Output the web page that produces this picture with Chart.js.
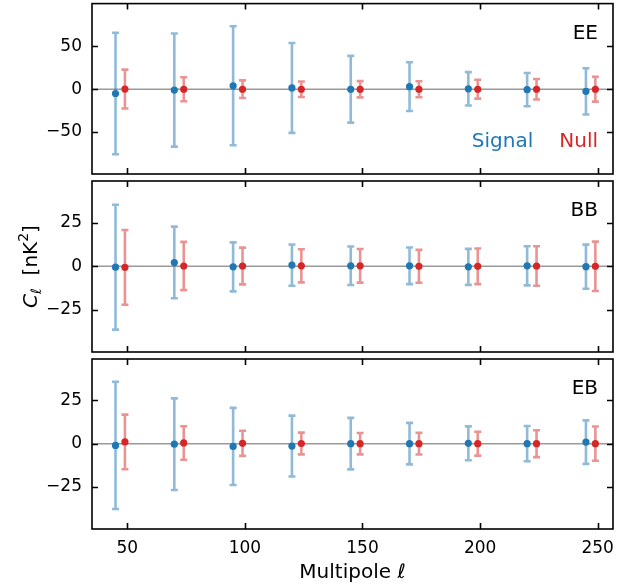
<!DOCTYPE html>
<html><head><meta charset="utf-8">
<script src="https://cdn.jsdelivr.net/npm/chart.js@4"></script>
<style>
html,body{margin:0;padding:0;background:#fff;}
#wrap{position:relative;width:619px;height:588px;overflow:hidden;}
#wrap canvas{position:absolute;left:0;top:0;}
</style></head><body>
<div id="wrap">
<canvas id="c0" width="619" height="588"></canvas>
<canvas id="c1" width="619" height="588"></canvas>
<canvas id="c2" width="619" height="588"></canvas>
</div>
<script>
// ---- data ----
const signalEll = [45, 70, 95, 120, 145, 170, 195, 220, 245];
const nullEll   = [49, 74, 99, 124, 149, 174, 199, 224, 249];

const eeSignal    = [-5, -1, 4, 1.5, 0, 3, 0.5, -0.5, -2.5];
const eeSignalErr = [71, 66, 69.5, 52.5, 39, 28.5, 19.5, 19.4, 27];
const eeNull      = [0.2, 0, 0, 0, 0, 0, 0, 0, 0];
const eeNullErr   = [22.7, 14, 10.3, 9, 9.5, 9.3, 11, 12, 14.5];

const bbSignal    = [-0.5, 2.2, -0.3, 0.7, 0.3, 0.3, -0.3, 0.3, -0.2];
const bbSignalErr = [35.7, 20.5, 14, 11.8, 11, 10.5, 10.3, 11.2, 12.6];
const bbNull      = [-0.6, 0.2, 0.2, 0.3, 0.3, 0, 0, 0.2, 0];
const bbNullErr   = [21.4, 13.8, 10.5, 9.5, 9.6, 9.4, 10.2, 11.3, 14.1];

const ebSignal    = [-1, -0.3, -1.6, -1.4, 0, 0, 0.2, 0, 0.9];
const ebSignalErr = [36.8, 26.5, 22.3, 17.6, 14.9, 12, 9.8, 10.2, 12.6];
const ebNull      = [1, 0.4, 0.2, 0.1, 0, 0, 0, 0, 0];
const ebNullErr   = [15.8, 9.7, 7.3, 6.3, 6.2, 6.3, 6.9, 7.8, 9.9];

const xTickValues  = [50, 100, 150, 200, 250];
const eeTickValues = [-50, 0, 50];
const bbTickValues = [-25, 0, 25];
const ebTickValues = [-25, 0, 25];
const panelNames   = ['EE', 'BB', 'EB'];
const seriesNames  = ['Signal', 'Null'];

// ---- styling / layout ----
const FONT = '"DejaVu Sans", sans-serif';
Chart.defaults.font.family = FONT;
Chart.defaults.color = '#000';
const BLUE = '#1f77b4', RED = '#d62728';
const BLUE_ERR = 'rgba(31,119,180,0.5)', RED_ERR = 'rgba(214,39,40,0.5)';
const W = 619, H = 588;
const PLOT_LEFT = 92, PLOT_RIGHT = 613;
const panelTop = [3, 181, 359];
const panelBottom = [174, 352, 529];
const xRange = [35, 256.5];
const yRanges = [[-99, 100], [-49, 48.8], [-49.4, 49]];

function pts(xs, ys, es) { return xs.map((x, i) => ({x: x, y: ys[i], err: es[i]})); }
const minus = v => (v < 0 ? '\u2212' + Math.abs(v) : String(v));

const errorBarPlugin = {
  id: 'errbars',
  beforeDatasetsDraw(chart) {
    const {ctx, chartArea: a, scales: {x, y}} = chart;
    ctx.save();
    const y0 = y.getPixelForValue(0);
    ctx.beginPath();
    ctx.strokeStyle = '#9a9a9a';
    ctx.lineWidth = 1.5;
    ctx.moveTo(a.left, y0); ctx.lineTo(a.right, y0);
    ctx.stroke();
    chart.data.datasets.forEach(ds => {
      ctx.strokeStyle = ds.errColor;
      ctx.lineWidth = 2.6;
      ctx.beginPath();
      ds.data.forEach(p => {
        const px = x.getPixelForValue(p.x);
        const t = y.getPixelForValue(p.y + p.err);
        const b = y.getPixelForValue(p.y - p.err);
        ctx.moveTo(px, t); ctx.lineTo(px, b);
        ctx.moveTo(px - 3.5, t); ctx.lineTo(px + 3.5, t);
        ctx.moveTo(px - 3.5, b); ctx.lineTo(px + 3.5, b);
      });
      ctx.stroke();
    });
    ctx.restore();
  }
};

const framePlugin = {
  id: 'frame',
  afterDraw(chart, args, opts) {
    const {ctx, chartArea: a, scales: {x, y}} = chart;
    ctx.save();
    ctx.strokeStyle = '#000';
    ctx.lineWidth = 1.6;
    ctx.strokeRect(a.left, a.top, a.right - a.left, a.bottom - a.top);
    ctx.beginPath();
    x.ticks.forEach(t => {
      const px = Math.round(x.getPixelForValue(t.value)) + 0.5;
      ctx.moveTo(px, a.top); ctx.lineTo(px, a.top + 6);
      ctx.moveTo(px, a.bottom); ctx.lineTo(px, a.bottom - 6);
    });
    y.ticks.forEach(t => {
      const py = Math.round(y.getPixelForValue(t.value)) + 0.5;
      ctx.moveTo(a.left, py); ctx.lineTo(a.left + 6, py);
      ctx.moveTo(a.right, py); ctx.lineTo(a.right - 6, py);
    });
    ctx.stroke();
    // panel name
    ctx.fillStyle = '#000';
    ctx.font = '20px ' + FONT;
    ctx.textAlign = 'right';
    ctx.textBaseline = 'middle';
    ctx.fillText(opts.name, a.right - 15, a.top + 30);
    // series text legend
    if (opts.legend) {
      let right = a.right - 15;
      const ds = chart.data.datasets.slice().reverse();
      ds.forEach(d => {
        ctx.fillStyle = d.backgroundColor;
        ctx.fillText(d.label, right, a.top + 138);
        right -= ctx.measureText(d.label).width + 26;
      });
    }
    // y-axis title
    if (opts.yTitle) {
      ctx.translate(37, (a.top + a.bottom) / 2);
      ctx.rotate(-Math.PI / 2);
      ctx.textAlign = 'left';
      ctx.textBaseline = 'alphabetic';
      const parts = [
        {t: 'C', f: 'italic 20px ' + FONT, dy: 0},
        {t: '\u2113', f: '14px ' + FONT, dy: 4},
        {t: '  [nK', f: '20px ' + FONT, dy: 0},
        {t: '2', f: '14px ' + FONT, dy: -9},
        {t: ']', f: '20px ' + FONT, dy: 0}
      ];
      let total = 0;
      parts.forEach(p => { ctx.font = p.f; p.w = ctx.measureText(p.t).width; total += p.w; });
      let u = -total / 2;
      ctx.fillStyle = '#000';
      parts.forEach(p => { ctx.font = p.f; ctx.fillText(p.t, u, p.dy); u += p.w; });
    }
    ctx.restore();
  }
};

const panels = [
  {sig: eeSignal, sigErr: eeSignalErr, nul: eeNull, nulErr: eeNullErr, ticks: eeTickValues},
  {sig: bbSignal, sigErr: bbSignalErr, nul: bbNull, nulErr: bbNullErr, ticks: bbTickValues},
  {sig: ebSignal, sigErr: ebSignalErr, nul: ebNull, nulErr: ebNullErr, ticks: ebTickValues}
];

panels.forEach((p, i) => {
  const last = i === panels.length - 1;
  new Chart(document.getElementById('c' + i), {
    type: 'scatter',
    data: {
      datasets: [
        {label: seriesNames[0], data: pts(signalEll, p.sig, p.sigErr), backgroundColor: BLUE,
         errColor: BLUE_ERR, pointRadius: 3.6, pointHoverRadius: 3.6, borderWidth: 0},
        {label: seriesNames[1], data: pts(nullEll, p.nul, p.nulErr), backgroundColor: RED,
         errColor: RED_ERR, pointRadius: 3.6, pointHoverRadius: 3.6, borderWidth: 0}
      ]
    },
    options: {
      responsive: false,
      animation: false,
      events: [],
      layout: {padding: {left: 0, right: W - PLOT_RIGHT, top: panelTop[i], bottom: last ? 0 : H - panelBottom[i]}},
      plugins: {
        legend: {display: false},
        tooltip: {enabled: false},
        frame: {name: panelNames[i], legend: i === 0, yTitle: i === 1}
      },
      scales: {
        x: {
          type: 'linear', min: xRange[0], max: xRange[1],
          display: last,
          afterBuildTicks: s => { s.ticks = xTickValues.map(v => ({value: v})); },
          afterFit: s => {
            s.height = last ? H - panelBottom[i] : 0;
            s.paddingLeft = 0; s.paddingRight = 0;
          },
          grid: {display: false, drawTicks: false},
          border: {display: false},
          ticks: {padding: 9, font: {size: 17}, color: '#000', maxRotation: 0, callback: v => minus(v)},
          title: {display: last, text: 'Multipole \u2113', font: {size: 20}, color: '#000', padding: {top: 0, bottom: 3}}
        },
        y: {
          type: 'linear', min: yRanges[i][0], max: yRanges[i][1],
          afterBuildTicks: s => { s.ticks = p.ticks.map(v => ({value: v})); },
          afterFit: s => {
            s.width = PLOT_LEFT;
            s.paddingTop = 0; s.paddingBottom = 0;
          },
          grid: {display: false, drawTicks: false},
          border: {display: false},
          ticks: {padding: 10, font: {size: 17}, color: '#000', callback: v => minus(v)}
        }
      }
    },
    plugins: [errorBarPlugin, framePlugin]
  });
});
</script>
</body></html>
